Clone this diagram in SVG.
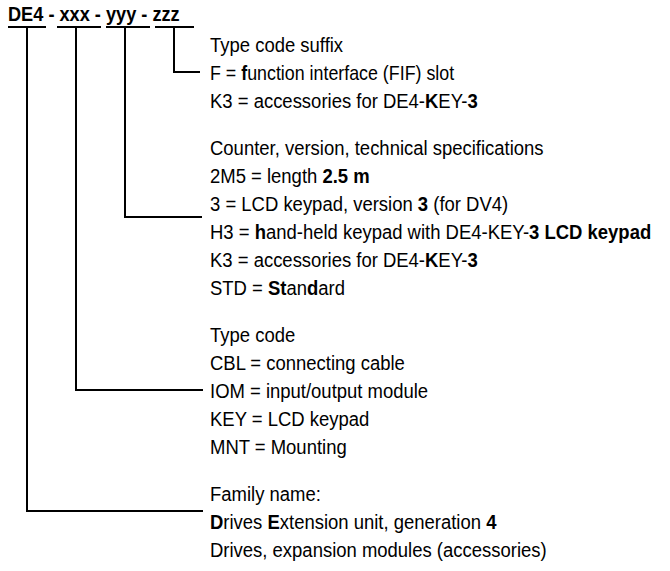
<svg xmlns="http://www.w3.org/2000/svg" width="670" height="571" viewBox="0 0 670 571">
<style>
text{font-family:"Liberation Sans",Arial,sans-serif;font-size:21px;fill:#000}
.b{font-weight:bold}
.ln{stroke:#000;stroke-width:2;fill:none}
</style>
<rect width="670" height="571" fill="#fff"/>
<g id="title" transform="matrix(0.866 0 0 1 8 0)">
<text x="0" y="21" class="b" font-size="22">DE4 - xxx - yyy - zzz</text>
</g>
<g id="connectors">
<path class="ln" d="M8 27H46M57 27H101M106 27H150M155 27H194"/>
<path class="ln" d="M174 27V72H200"/>
<path class="ln" d="M125 27V217H202"/>
<path class="ln" d="M76 27V390H203"/>
<path class="ln" d="M27 27V511H203"/>
</g>
<g id="suffix" transform="matrix(0.88 0 0 1 210 0)">
<text x="0" y="52">Type code suffix</text>
<text x="0" y="80" transform="matrix(0.965 0 0 1 0 0)">F = <tspan class="b">f</tspan>unction interface (FIF) slot</text>
<text x="0" y="108">K3 = accessories for DE4-<tspan class="b">K</tspan>EY-<tspan class="b">3</tspan></text>
</g>
<g id="counter" transform="matrix(0.88 0 0 1 210 0)">
<text x="0" y="155">Counter, version, technical specifications</text>
<text x="0" y="183">2M5 = length <tspan class="b">2.5 m</tspan></text>
<text x="0" y="211">3 = LCD keypad, version <tspan class="b">3</tspan> (for DV4)</text>
<text x="0" y="239">H3 = <tspan class="b">h</tspan>and-held keypad with DE4-KEY-<tspan class="b">3 LCD keypad</tspan></text>
<text x="0" y="267">K3 = accessories for DE4-<tspan class="b">K</tspan>EY-<tspan class="b">3</tspan></text>
<text x="0" y="295">STD = <tspan class="b">St</tspan>an<tspan class="b">d</tspan>ard</text>
</g>
<g id="typecode" transform="matrix(0.88 0 0 1 210 0)">
<text x="0" y="342">Type code</text>
<text x="0" y="370">CBL = connecting cable</text>
<text x="0" y="398">IOM = input/output module</text>
<text x="0" y="426">KEY = LCD keypad</text>
<text x="0" y="454">MNT = Mounting</text>
</g>
<g id="family" transform="matrix(0.88 0 0 1 210 0)">
<text x="0" y="501">Family name:</text>
<text x="0" y="529"><tspan class="b">D</tspan>rives <tspan class="b">E</tspan>xtension unit, generation <tspan class="b">4</tspan></text>
<text x="0" y="557">Drives, expansion modules (accessories)</text>
</g>
</svg>
